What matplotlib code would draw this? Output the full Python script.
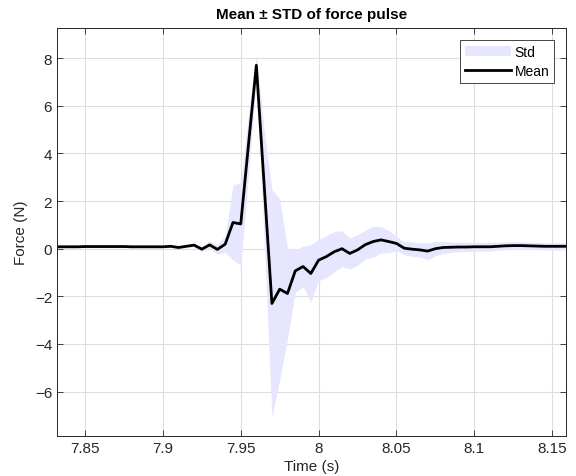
import numpy as np
import matplotlib.pyplot as plt
from matplotlib.ticker import FormatStrFormatter

plt.rcParams['font.family'] = ['Liberation Sans', 'DejaVu Sans']

# time axis (s), 5 ms sampling
time = np.round(np.arange(7.83, 8.1601, 0.005), 3)

# mean force (N)
mean_force = [
    0.08, 0.08, 0.08, 0.08, 0.09, 0.09, 0.09, 0.09, 0.09, 0.09,
    0.08, 0.08, 0.08, 0.08, 0.08, 0.10, 0.05, 0.10, 0.15, -0.02,
    0.16, -0.03, 0.19, 1.10, 1.04, 4.40, 7.70, 2.70, -2.30, -1.70,
    -1.88, -0.93, -0.75, -1.04, -0.48, -0.33, -0.13, 0.00, -0.20, -0.05,
    0.17, 0.30, 0.37, 0.30, 0.22, 0.02, -0.02, -0.05, -0.10, 0.00,
    0.05, 0.06, 0.07, 0.07, 0.08, 0.08, 0.08, 0.10, 0.12, 0.13,
    0.13, 0.12, 0.11, 0.10, 0.10, 0.10, 0.10,
]

# standard deviation (N)
std_force = [
    0.05, 0.05, 0.05, 0.05, 0.05, 0.05, 0.05, 0.05, 0.05, 0.05,
    0.05, 0.05, 0.05, 0.05, 0.05, 0.05, 0.05, 0.06, 0.08, 0.10,
    0.15, 0.20, 0.35, 1.57, 1.74, 1.30, 0.45, 2.30, 4.78, 3.80,
    1.90, 0.90, 0.85, 1.20, 0.87, 0.88, 0.85, 0.75, 0.65, 0.65,
    0.60, 0.65, 0.55, 0.47, 0.30, 0.27, 0.30, 0.30, 0.36, 0.30,
    0.25, 0.22, 0.20, 0.20, 0.19, 0.18, 0.18, 0.17, 0.17, 0.16,
    0.16, 0.15, 0.15, 0.15, 0.15, 0.15, 0.15,
]

mean_force = np.array(mean_force)
std_force = np.array(std_force)

fig = plt.figure(figsize=(5.76, 4.77), dpi=100)
ax = fig.add_axes([0.099, 0.084, 0.884, 0.855])

ax.fill_between(time, mean_force - std_force, mean_force + std_force,
                color=(0.9, 0.9, 1.0), linewidth=0, label='Std')
ax.plot(time, mean_force, color='k', linewidth=2, label='Mean')

ax.set_xlim(7.832, 8.159)
ax.set_ylim(-7.86, 9.26)
ax.set_xticks([7.85, 7.9, 7.95, 8.0, 8.05, 8.1, 8.15])
ax.set_yticks([-6, -4, -2, 0, 2, 4, 6, 8])
ax.xaxis.set_major_formatter(FormatStrFormatter('%g'))

dark = (0.15, 0.15, 0.15)
ax.grid(True, color=(0.87, 0.87, 0.87), linewidth=0.8)
ax.set_axisbelow(True)
ax.tick_params(direction='in', top=True, right=True, colors=dark,
               labelsize=11, length=4, width=0.6)
for s in ax.spines.values():
    s.set_color(dark)
    s.set_linewidth(0.7)

ax.set_xlabel('Time (s)', fontsize=11, color=dark, labelpad=3)
ax.set_ylabel('Force (N)', fontsize=11, color=dark, labelpad=5)
ax.set_title('Mean ± STD of force pulse', fontsize=11, fontweight='bold', pad=7)

leg = ax.legend(loc='upper right', fontsize=10, fancybox=False, framealpha=1,
                edgecolor=dark, borderaxespad=0.85, handlelength=3.3,
                handletextpad=0.3, borderpad=0.35, labelspacing=0.4)
leg.get_frame().set_linewidth(0.6)

plt.savefig('out.png', dpi=100)
